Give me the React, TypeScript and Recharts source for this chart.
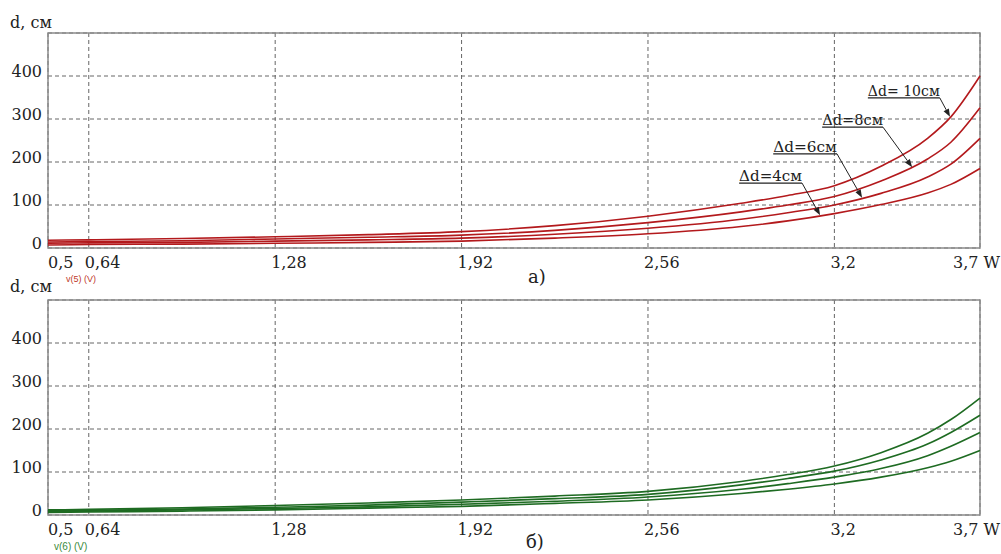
import { LineChart, Line, XAxis, YAxis, CartesianGrid, ReferenceArea, ReferenceLine } from 'recharts'

// W, power axis
const W = [0.5, 0.64, 0.96, 1.28, 1.6, 1.92, 2.24, 2.56, 2.88, 3.04, 3.2, 3.36, 3.52, 3.6, 3.7]
const xTicks = [0.5, 0.64, 1.28, 1.92, 2.56, 3.2, 3.7]
const yTicks = [0, 100, 200, 300, 400]

// panel a) – red curves, d in cm
const red10 = [18, 19, 22, 26, 31, 38, 52, 74, 104, 122, 145, 190, 255, 305, 400]
const red8 = [14, 15, 17, 21, 25, 30, 41, 59, 84, 100, 120, 156, 207, 246, 326]
const red6 = [11, 12, 13, 16, 19, 23, 32, 46, 67, 82, 100, 127, 165, 195, 255]
const red4 = [7, 8, 9, 11, 13, 16, 23, 33, 50, 63, 80, 101, 128, 148, 185]

// panel б) – green curves
const green1 = [12, 13, 17, 22, 28, 35, 44, 55, 78, 94, 114, 145, 190, 222, 272]
const green2 = [10, 11, 14, 18, 23, 30, 38, 48, 70, 85, 102, 128, 165, 192, 232]
const green3 = [8, 9, 12, 15, 19, 25, 32, 42, 60, 73, 88, 108, 138, 160, 192]
const green4 = [6, 7, 9, 12, 16, 20, 27, 35, 50, 60, 72, 88, 110, 125, 150]

const notes = [
  { text: 'Δd= 10см', from: 3.315, to: 3.562, at: 349, tipX: 3.597, tipY: 305 },
  { text: 'Δd=8см', from: 3.158, to: 3.367, at: 281, tipX: 3.467, tipY: 188 },
  { text: 'Δd=6см', from: 2.99, to: 3.209, at: 219, tipX: 3.295, tipY: 117 },
  { text: 'Δd=4см', from: 2.873, to: 3.089, at: 151, tipX: 3.151, tipY: 76 },
]

const serif = 'DejaVu Serif'

const fmt = (v: number) => String(v).replace('.', ',')

function XTick({ x, y, payload }: any) {
  const v = payload.value
  const last = v === 3.7
  return (
    <text x={last ? x - 27 : v === 0.5 ? x : x - 4} y={y + 18} fontSize={16} fontFamily={serif} fill="#222" textAnchor="start">
      {last ? '3,7 W' : fmt(v)}
    </text>
  )
}

function YTick({ x, y, payload }: any) {
  return (
    <text x={x - 4} y={y + 1} fontSize={16} fontFamily={serif} fill="#222" textAnchor="end">
      {payload.value}
    </text>
  )
}

function Underlined(text: string) {
  return (p: any) => (
    <g>
      <line x1={p.x1} y1={p.y1} x2={p.x2} y2={p.y2} stroke="#222" strokeWidth={1.3} />
      <text x={p.x1} y={p.y1 - 2} fontSize={15} fontFamily={serif} fill="#222" textLength={p.x2 - p.x1} lengthAdjust="spacingAndGlyphs">
        {text}
      </text>
    </g>
  )
}

function Arrow(p: any) {
  const dx = p.x2 - p.x1
  const dy = p.y2 - p.y1
  const len = Math.hypot(dx, dy) || 1
  const ux = dx / len
  const uy = dy / len
  const bx = p.x2 - ux * 8
  const by = p.y2 - uy * 8
  return (
    <g>
      <line x1={p.x1} y1={p.y1} x2={bx} y2={by} stroke="#222" strokeWidth={1} />
      <polygon points={`${p.x2},${p.y2} ${bx - uy * 3},${by + ux * 3} ${bx + uy * 3},${by - ux * 3}`} fill="#222" />
    </g>
  )
}

function Panel({ series, color, withNotes }: { series: number[][]; color: string; withNotes?: boolean }) {
  const data = W.map((w, i) => ({ w, s0: series[0][i], s1: series[1][i], s2: series[2][i], s3: series[3][i] }))
  return (
    <LineChart width={1001} height={285} data={data} margin={{ top: 33, right: 21, bottom: 0, left: 0 }}>
      <CartesianGrid stroke="#666" strokeDasharray="4 3" />
      <XAxis
        dataKey="w"
        type="number"
        domain={[0.5, 3.7]}
        ticks={xTicks}
        interval={0}
        tick={<XTick />}
        tickLine={false}
        tickSize={0}
        axisLine={false}
        height={37}
      />
      <YAxis
        type="number"
        domain={[0, 500]}
        ticks={yTicks}
        interval={0}
        tick={<YTick />}
        tickLine={false}
        tickSize={0}
        axisLine={false}
        width={48}
      />
      <ReferenceArea x1={0.5} x2={3.7} y1={0} y2={500} fill="none" stroke="#8a8a8a" strokeWidth={1.5} />
      {['s0', 's1', 's2', 's3'].map((k) => (
        <Line key={k} dataKey={k} type="monotone" stroke={color} strokeWidth={1.6} dot={false} isAnimationActive={false} />
      ))}
      {withNotes &&
        notes.map((n) => (
          <ReferenceLine
            key={n.text}
            segment={[
              { x: n.from, y: n.at },
              { x: n.to, y: n.at },
            ]}
            shape={Underlined(n.text)}
          />
        ))}
      {withNotes &&
        notes.map((n) => (
          <ReferenceLine
            key={n.text + 'a'}
            segment={[
              { x: n.to, y: n.at },
              { x: n.tipX, y: n.tipY },
            ]}
            shape={Arrow}
          />
        ))}
    </LineChart>
  )
}

export default function App() {
  return (
    <div style={{ position: 'relative', width: 1001, height: 554, background: '#fff', fontFamily: serif }}>
      <style>{'body{margin:0}'}</style>
      <div style={{ position: 'absolute', left: 0, top: 0 }}>
        <Panel series={[red10, red8, red6, red4]} color="#b3191c" withNotes />
      </div>
      <div style={{ position: 'absolute', left: 0, top: 267 }}>
        <Panel series={[green1, green2, green3, green4]} color="#1e6b22" />
      </div>
      <svg width={1001} height={554} style={{ position: 'absolute', left: 0, top: 0, pointerEvents: 'none' }}>
        <text x={10} y={28} fontSize={16} fontFamily={serif} fill="#222">d, см</text>
        <text x={10} y={292} fontSize={16} fontFamily={serif} fill="#222">d, см</text>
        <text x={66} y={282} fontSize={9} fontFamily="Liberation Sans" fill="#c0392b">v(5) (V)</text>
        <text x={54} y={550} fontSize={10} fontFamily="Liberation Sans" fill="#3a8a3a">v(6) (V)</text>
        <text x={528} y={283} fontSize={18} fontFamily={serif} fill="#222">а)</text>
        <text x={526} y={548} fontSize={18} fontFamily={serif} fill="#222">б)</text>
      </svg>
    </div>
  )
}
